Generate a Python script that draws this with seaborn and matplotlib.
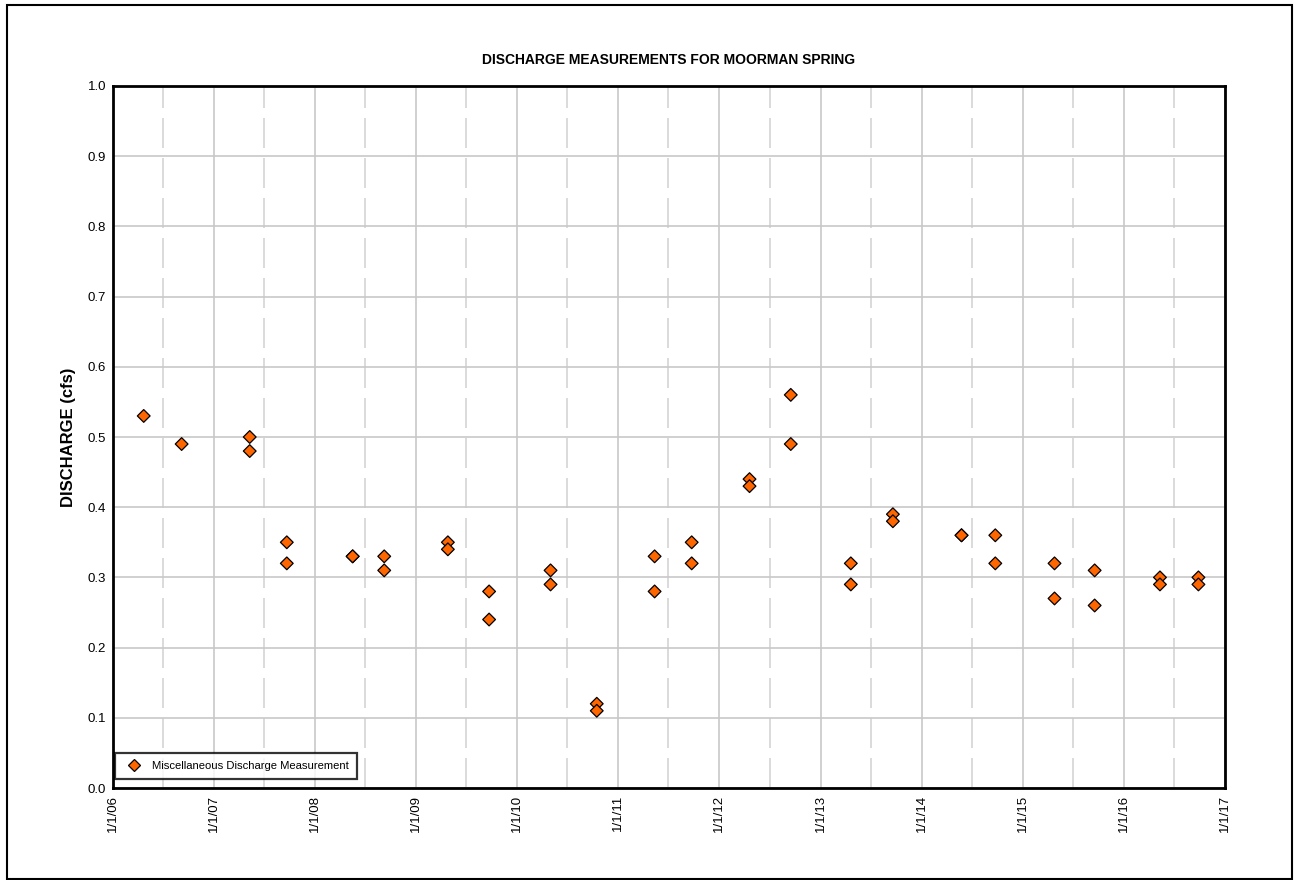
import pandas as pd
import matplotlib
matplotlib.use("Agg")
import matplotlib.pyplot as plt
import matplotlib.dates as mdates
import seaborn as sns
from matplotlib.patches import Rectangle

# measurement dates (two readings on most visits)
dates = ["2006-04-22",
         "2006-09-06",
         "2007-05-10", "2007-05-10",
         "2007-09-21", "2007-09-21",
         "2008-05-16", "2008-05-16",
         "2008-09-07", "2008-09-07",
         "2009-04-25", "2009-04-25",
         "2009-09-21", "2009-09-21",
         "2010-05-01", "2010-05-01",
         "2010-10-15", "2010-10-15",
         "2011-05-12", "2011-05-12",
         "2011-09-23", "2011-09-23",
         "2012-04-19", "2012-04-19",
         "2012-09-15", "2012-09-15",
         "2013-04-20", "2013-04-20",
         "2013-09-19", "2013-09-19",
         "2014-05-25", "2014-05-25",
         "2014-09-24", "2014-09-24",
         "2015-04-26", "2015-04-26",
         "2015-09-18", "2015-09-18",
         "2016-05-11", "2016-05-11",
         "2016-09-27", "2016-09-27"]
discharge = [0.53,
             0.49,
             0.50, 0.48,
             0.35, 0.32,
             0.33, 0.33,
             0.33, 0.31,
             0.35, 0.34,
             0.28, 0.24,
             0.31, 0.29,
             0.12, 0.11,
             0.33, 0.28,
             0.35, 0.32,
             0.44, 0.43,
             0.56, 0.49,
             0.32, 0.29,
             0.39, 0.38,
             0.36, 0.36,
             0.36, 0.32,
             0.32, 0.27,
             0.31, 0.26,
             0.30, 0.29,
             0.30, 0.29]
series_label = "Miscellaneous Discharge Measurement"

df = pd.DataFrame({"Date": pd.to_datetime(dates), "Discharge": discharge,
                   "Series": series_label})

sns.set_style("white")
plt.rcParams["font.family"] = ["Liberation Sans", "DejaVu Sans"]
plt.rcParams["text.color"] = "black"
plt.rcParams["axes.labelcolor"] = "black"
plt.rcParams["xtick.color"] = "black"
plt.rcParams["ytick.color"] = "black"

fig = plt.figure(figsize=(12.97, 8.80), dpi=100)
ax = fig.add_axes([113 / 1297, 1 - 788 / 880, 1112 / 1297, 702 / 880])

# grid first so points sit on top
ax.set_axisbelow(True)
ax.xaxis.set_major_locator(mdates.YearLocator())
ax.xaxis.set_minor_locator(mdates.MonthLocator(bymonth=7))
ax.xaxis.set_major_formatter(
    plt.FuncFormatter(lambda v, p: "{d.month}/{d.day}/{d:%y}".format(d=mdates.num2date(v))))
ax.grid(which="major", axis="both", color="#c8c8c8", lw=1.2)
ax.grid(which="minor", axis="x", color="#d4d4d4", lw=1.2, dashes=(18, 6))

sns.scatterplot(data=df, x="Date", y="Discharge", hue="Series", ax=ax,
                marker="D", s=42, palette=["#FF6600"], edgecolor="black",
                linewidth=0.9, zorder=3)

ax.set_xlim(pd.Timestamp("2006-01-01"), pd.Timestamp("2017-01-01"))
ax.set_ylim(0, 1.0)
ax.set_yticks([i / 10 for i in range(11)])
ax.yaxis.set_major_formatter(plt.FuncFormatter(lambda v, p: f"{v:.1f}"))
ax.tick_params(axis="both", which="both", length=0, labelsize=9.5, pad=5,
               labelcolor="black")
ax.tick_params(axis="x", rotation=90)
for sp in ax.spines.values():
    sp.set_color("black")
    sp.set_linewidth(2)

ax.set_xlabel("")
ax.set_ylabel("DISCHARGE (cfs)", fontsize=12, fontweight="bold", labelpad=8,
              color="black")
fig.text(669 / 1297, 1 - 60 / 880, "DISCHARGE MEASUREMENTS FOR MOORMAN SPRING",
         ha="center", va="center", fontsize=10, fontweight="bold", color="black")

leg = ax.legend(loc="lower left", bbox_to_anchor=(2 / 1112, 9 / 702),
                fontsize=8.1, frameon=True, fancybox=False,
                borderaxespad=0, handletextpad=0.6, borderpad=0.7,
                markerscale=1.0, labelcolor="black")
leg.get_frame().set_edgecolor("black")
leg.get_frame().set_linewidth(1.6)

# outer border around the whole figure
fig.patches.append(Rectangle((7 / 1297, 1 / 880), 1285 / 1297, 874 / 880,
                             transform=fig.transFigure, fill=False,
                             edgecolor="black", lw=1.5))

fig.savefig("out.png", dpi=100)
